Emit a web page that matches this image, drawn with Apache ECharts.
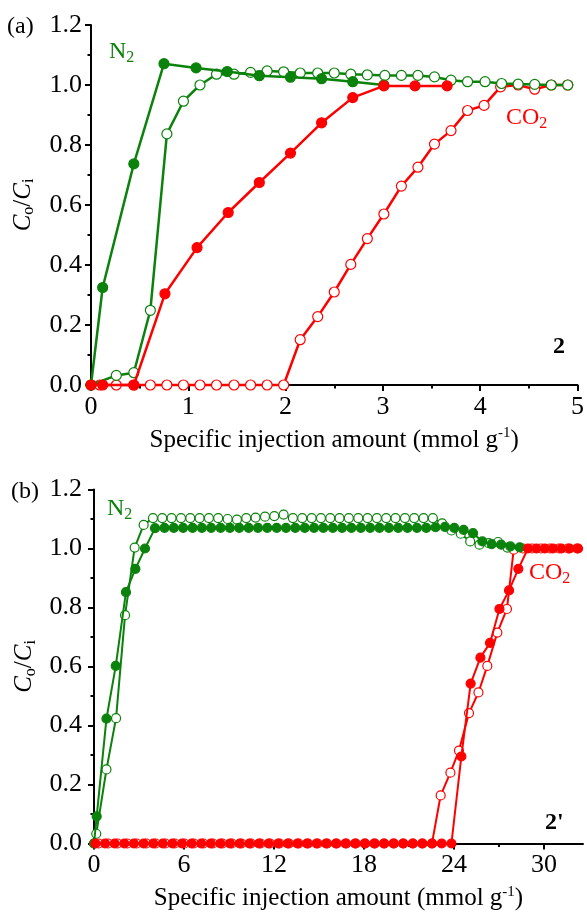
<!DOCTYPE html>
<html>
<head>
<meta charset="utf-8">
<script src="https://cdn.jsdelivr.net/npm/echarts@6/dist/echarts.min.js"></script>
<style>
  html, body { margin: 0; padding: 0; background: #fff; }
  #chart { width: 587px; height: 912px; }
</style>
</head>
<body>
<div id="chart"></div>
<script>
// ---- panel (a): sample 2 ----
var aN2FilledX = [0, 0.12, 0.44, 0.75, 1.08, 1.40, 1.73, 2.05, 2.37, 2.69, 3.01];
var aN2FilledY = [0, 0.325, 0.737, 1.071, 1.057, 1.045, 1.031, 1.026, 1.021, 1.011, 1.0];

var aN2OpenX = [0, 0.26, 0.44, 0.61, 0.78, 0.95, 1.12, 1.29, 1.47, 1.64, 1.81, 1.98, 2.15, 2.33, 2.50,
  2.67, 2.84, 3.02, 3.19, 3.36, 3.53, 3.70, 3.87, 4.05, 4.22, 4.39, 4.56, 4.73, 4.90];
var aN2OpenY = [0, 0.032, 0.041, 0.249, 0.837, 0.946, 1.0, 1.036, 1.036, 1.042, 1.047, 1.044, 1.04, 1.04, 1.04,
  1.036, 1.034, 1.032, 1.032, 1.032, 1.027, 1.016, 1.011, 1.011, 1.005, 1.003, 1.002, 1.0, 1.0];

var aCO2FilledX = [0, 0.12, 0.44, 0.76, 1.09, 1.41, 1.73, 2.05, 2.37, 2.69, 3.01, 3.33, 3.66];
var aCO2FilledY = [0, 0, 0, 0.304, 0.458, 0.575, 0.675, 0.773, 0.874, 0.958, 0.997, 0.997, 0.997];

var aCO2OpenX = [0.09, 0.26, 0.44, 0.61, 0.78, 0.95, 1.12, 1.29, 1.47, 1.64, 1.81, 1.98, 2.15, 2.33, 2.50,
  2.67, 2.84, 3.01, 3.19, 3.36, 3.53, 3.70, 3.87, 4.04, 4.21, 4.39, 4.56, 4.73, 4.90];
var aCO2OpenY = [0, 0, 0, 0, 0, 0, 0, 0, 0, 0, 0, 0, 0.151, 0.228, 0.31,
  0.402, 0.488, 0.570, 0.663, 0.726, 0.803, 0.848, 0.915, 0.932, 0.994, 1.0, 0.986, 1.0, 1.0];

// ---- panel (b): sample 2' ----
var bN2FilledX = [0, 0.18, 0.83, 1.45, 2.13, 2.76, 3.40,
  4.07, 4.70, 5.32, 5.94, 6.57, 7.19, 7.81, 8.44, 9.06, 9.68, 10.31, 10.93, 11.55, 12.18, 12.80, 13.42,
  14.05, 14.67, 15.29, 15.92, 16.54, 17.16, 17.79, 18.41, 19.03, 19.66, 20.28, 20.90, 21.53, 22.15,
  22.77, 23.40, 24.02, 24.64, 25.27, 25.89, 26.51, 27.14, 27.76, 28.38];
var bN2FilledY = [0, 0.092, 0.423, 0.602, 0.852, 0.931, 1.0,
  1.069, 1.07, 1.07, 1.07, 1.07, 1.07, 1.07, 1.07, 1.07, 1.07, 1.07, 1.07, 1.07, 1.07, 1.07, 1.07,
  1.07, 1.07, 1.07, 1.07, 1.07, 1.07, 1.07, 1.07, 1.07, 1.07, 1.07, 1.07, 1.07, 1.07,
  1.072, 1.073, 1.07, 1.063, 1.052, 1.024, 1.015, 1.013, 1.007, 1.004];

var bN2OpenX = [0, 0.15, 0.83, 1.47, 2.07, 2.71, 3.31,
  3.93, 4.55, 5.17, 5.80, 6.42, 7.04, 7.66, 8.28, 8.91, 9.53, 10.15, 10.77, 11.40, 12.02, 12.64, 13.26,
  13.88, 14.51, 15.13, 15.75, 16.37, 16.99, 17.62, 18.24, 18.86, 19.48, 20.10, 20.73, 21.35, 21.97,
  22.59, 23.21, 23.83, 24.45, 25.08, 25.70, 26.32, 26.94, 27.56];
var bN2OpenY = [0, 0.033, 0.251, 0.425, 0.774, 1.003, 1.08,
  1.103, 1.103, 1.103, 1.103, 1.103, 1.103, 1.103, 1.103, 1.1, 1.098, 1.103, 1.105, 1.108, 1.11, 1.115, 1.103,
  1.103, 1.103, 1.103, 1.103, 1.103, 1.103, 1.103, 1.103, 1.103, 1.103, 1.103, 1.103, 1.103, 1.103,
  1.103, 1.085, 1.061, 1.05, 1.024, 1.013, 1.018, 1.022, 1.003];

var bCO2FilledX = [0.10, 0.74, 1.38, 2.02, 2.66, 3.31, 3.95, 4.59, 5.23, 5.87, 6.51, 7.15, 7.79, 8.43,
  9.07, 9.72, 10.36, 11.00, 11.64, 12.28, 12.92, 13.56, 14.20, 14.84, 15.48, 16.13, 16.77, 17.41,
  18.05, 18.69, 19.33, 19.97, 20.61, 21.25, 21.89, 22.54, 23.18, 23.83,
  24.49, 25.11, 25.76, 26.40, 27.03, 27.67, 28.29,
  28.93, 29.49, 30.05, 30.60, 31.16, 31.71, 32.27];
var bCO2FilledY = [0, 0, 0, 0, 0, 0, 0, 0, 0, 0, 0, 0, 0, 0,
  0, 0, 0, 0, 0, 0, 0, 0, 0, 0, 0, 0, 0, 0,
  0, 0, 0, 0, 0, 0, 0, 0, 0, 0,
  0.295, 0.542, 0.630, 0.680, 0.795, 0.858, 0.931,
  1.0, 1.0, 1.0, 1.0, 1.0, 1.0, 1.0];

var bCO2OpenX = [0.30, 0.94, 1.57, 2.21, 2.84, 3.48, 4.11, 4.75, 5.38, 6.02, 6.65, 7.29, 7.92, 8.56,
  9.19, 9.83, 10.46, 11.10, 11.73, 12.37, 13.00, 13.64, 14.27, 14.91, 15.54, 16.18, 16.81, 17.45,
  18.08, 18.72, 19.35, 19.99, 20.62, 21.26, 21.89, 22.53,
  23.11, 23.76, 24.33, 25.00, 25.63, 26.22, 26.89, 27.53, 27.98,
  28.60, 29.20, 29.80, 30.40, 31.00, 31.60, 32.20];
var bCO2OpenY = [0, 0, 0, 0, 0, 0, 0, 0, 0, 0, 0, 0, 0, 0,
  0, 0, 0, 0, 0, 0, 0, 0, 0, 0, 0, 0, 0, 0,
  0, 0, 0, 0, 0, 0, 0, 0,
  0.163, 0.24, 0.315, 0.442, 0.512, 0.602, 0.715, 0.795, 0.996,
  1.0, 1.0, 1.0, 1.0, 1.0, 1.0, 1.0];

// axis ticks
var aXTicks = [0, 1, 2, 3, 4, 5];
var bXTicks = [0, 6, 12, 18, 24, 30];
var bXMinorTicks = [3, 9, 15, 21, 27];

var GREEN = '#0b820b', RED = '#ff0000';
var FONT = '"Liberation Serif", "Times New Roman", serif';

function pairs(xs, ys) {
  return xs.map(function (x, i) { return [x, ys[i]]; });
}

function curve(name, axis, xs, ys, color, filled, size, width, z) {
  return {
    type: 'line', name: name, xAxisIndex: axis, yAxisIndex: axis,
    data: pairs(xs, ys),
    symbol: 'circle', symbolSize: size, showAllSymbol: true,
    lineStyle: { color: color, width: width },
    itemStyle: { color: filled ? color : '#fff', borderColor: color, borderWidth: 1.2 },
    z: z, clip: false, animation: false
  };
}

// gas label with subscript, e.g. N2 / CO2
function gasLabel(main, left, top, color) {
  return {
    type: 'text', left: left, top: top,
    style: {
      text: '{m|' + main + '}{s|2}',
      rich: {
        m: { fontFamily: FONT, fontSize: 24, fill: color, lineHeight: 27 },
        s: { fontFamily: FONT, fontSize: 16, fill: color, lineHeight: 12, verticalAlign: 'bottom' }
      }
    }
  };
}

var black = { color: '#000', width: 2 };
var xName = '{n|Specific injection amount (mmol g}{sp|-1}{n|)}';
var xNameRich = {
  n: { fontFamily: FONT, fontSize: 25, color: '#000', lineHeight: 28 },
  sp: { fontFamily: FONT, fontSize: 15, color: '#000', lineHeight: 14, verticalAlign: 'top' }
};
var yName = '{i|C}{sb|o}{n|/}{i|C}{sb|i}';
var yNameRich = {
  i: { fontFamily: FONT, fontSize: 25, fontStyle: 'italic', color: '#000', lineHeight: 28 },
  n: { fontFamily: FONT, fontSize: 25, color: '#000', lineHeight: 28 },
  sb: { fontFamily: FONT, fontSize: 16, color: '#000', lineHeight: 14, verticalAlign: 'bottom' }
};
var tickLabel = { fontFamily: FONT, fontSize: 26, color: '#000' };

function yAxis(grid, margin) {
  return {
    type: 'value', gridIndex: grid, min: 0, max: 1.2, interval: 0.2,
    name: yName, nameLocation: 'middle', nameGap: 54, nameTextStyle: { rich: yNameRich },
    axisLine: { show: true, lineStyle: black },
    axisTick: { length: 6, lineStyle: black },
    minorTick: { show: true, splitNumber: 2, length: 3.5, lineStyle: black },
    splitLine: { show: false },
    axisLabel: Object.assign({ margin: margin, formatter: function (v) { return v.toFixed(1); } }, tickLabel)
  };
}

var option = {
  animation: false,
  backgroundColor: '#fff',
  grid: [
    { left: 91, top: 25, width: 489, height: 360 },
    { left: 94, top: 489.5, width: 489, height: 355.5 }
  ],
  xAxis: [
    {
      type: 'value', gridIndex: 0, position: 'bottom', min: 0, max: 5, interval: 1,
      name: xName, nameLocation: 'middle', nameGap: 41, nameTextStyle: { rich: xNameRich },
      axisLine: { onZero: false, lineStyle: black },
      axisTick: { length: 6, lineStyle: black },
      minorTick: { show: true, splitNumber: 2, length: 3.5, lineStyle: black },
      splitLine: { show: false },
      axisLabel: Object.assign({ margin: 9, customValues: aXTicks }, tickLabel)
    },
    {
      type: 'value', gridIndex: 1, position: 'bottom', min: 0, max: 32.6,
      name: xName, nameLocation: 'middle', nameGap: 41, nameTextStyle: { rich: xNameRich },
      axisLine: { onZero: false, lineStyle: black },
      axisTick: { length: 6, lineStyle: black, customValues: bXTicks },
      splitLine: { show: false },
      axisLabel: Object.assign({ margin: 9, customValues: bXTicks }, tickLabel)
    },
    {
      type: 'value', gridIndex: 1, position: 'bottom', min: 0, max: 32.6,
      axisLine: { show: false },
      axisTick: { length: 3.5, lineStyle: black, customValues: bXMinorTicks },
      axisLabel: { show: false },
      splitLine: { show: false }
    }
  ],
  yAxis: [yAxis(0, 9), yAxis(1, 12)],
  series: [
    curve('CO2 open (a)', 0, aCO2OpenX, aCO2OpenY, RED, false, 10, 2.5, 3),
    curve('N2 open (a)', 0, aN2OpenX, aN2OpenY, GREEN, false, 10, 2.5, 4),
    curve('N2 filled (a)', 0, aN2FilledX, aN2FilledY, GREEN, true, 10, 2.5, 5),
    curve('CO2 filled (a)', 0, aCO2FilledX, aCO2FilledY, RED, true, 10, 2.5, 6),
    curve('CO2 open (b)', 1, bCO2OpenX, bCO2OpenY, RED, false, 9, 2, 3),
    curve('N2 open (b)', 1, bN2OpenX, bN2OpenY, GREEN, false, 9, 2, 4),
    curve('N2 filled (b)', 1, bN2FilledX, bN2FilledY, GREEN, true, 9, 2, 5),
    curve('CO2 filled (b)', 1, bCO2FilledX, bCO2FilledY, RED, true, 9, 2, 6)
  ],
  graphic: [
    { type: 'text', left: 7, top: 15, style: { text: '(a)', font: '24px ' + FONT, fill: '#000' } },
    { type: 'text', left: 11, top: 480, style: { text: '(b)', font: '24px ' + FONT, fill: '#000' } },
    gasLabel('N', 109, 40, GREEN),
    gasLabel('CO', 506, 106, RED),
    { type: 'text', left: 553, top: 335, style: { text: '2', font: 'bold 24px ' + FONT, fill: '#000' } },
    gasLabel('N', 107, 497, GREEN),
    gasLabel('CO', 529, 561, RED),
    { type: 'text', left: 545, top: 811, style: { text: "2'", font: 'bold 24px ' + FONT, fill: '#000' } }
  ]
};

var chart = echarts.init(document.getElementById('chart'));
chart.setOption(option);
</script>
</body>
</html>
